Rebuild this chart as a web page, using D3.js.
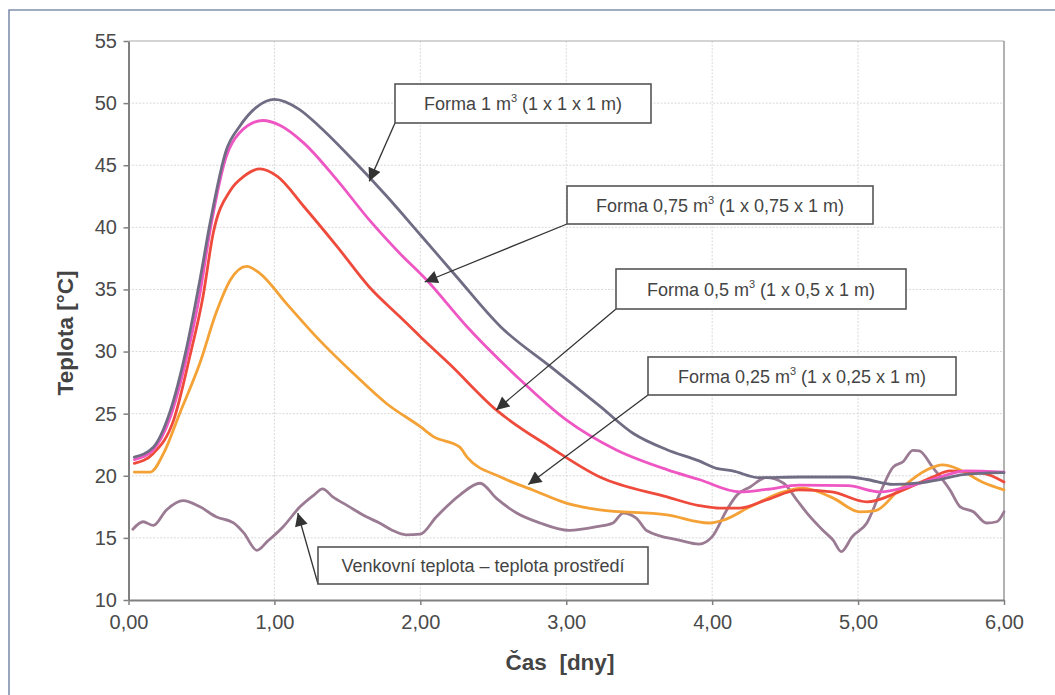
<!DOCTYPE html>
<html>
<head>
<meta charset="utf-8">
<script src="https://cdn.jsdelivr.net/npm/d3@7"></script>
<style>
	html, body {margin: 0; padding: 0; background: #fff;}
	svg {display: block; font-family: 'Liberation Sans', Arial, sans-serif;}
</style>
</head>
<body>
<svg id="chart" width="1055" height="695"></svg>
<script>
// [den, teplota]
const form_100 = [
	[0.04, 21.5], [0.17, 22.3], [0.28, 25.0], [0.40, 30.4], [0.49, 35.8], [0.56, 40.4], [0.67, 46.2],
	[0.76, 48.1], [0.88, 49.7], [1.00, 50.3], [1.17, 49.5], [1.31, 48.1], [1.54, 45.4], [1.77, 42.5],
	[2.00, 39.4], [2.25, 36.0], [2.55, 32.0], [2.89, 28.8], [3.23, 25.6], [3.46, 23.4], [3.69, 22.1],
	[3.91, 21.2], [4.03, 20.6], [4.14, 20.4], [4.32, 19.85], [4.60, 19.9], [4.94, 19.9], [5.06, 19.7],
	[5.24, 19.3], [5.40, 19.4], [5.56, 19.7], [5.72, 20.1], [6.00, 20.25]
];
const form_075 = [
	[0.04, 21.3], [0.17, 22.1], [0.28, 24.5], [0.40, 29.6], [0.49, 34.7], [0.56, 39.8], [0.67, 45.7],
	[0.76, 47.6], [0.92, 48.6], [1.04, 48.2], [1.20, 46.8], [1.43, 43.8], [1.65, 40.6], [1.86, 37.9],
	[2.04, 35.8], [2.32, 32.0], [2.66, 28.0], [3.00, 24.5], [3.34, 22.1], [3.69, 20.5], [3.91, 19.7],
	[4.19, 18.7], [4.37, 18.9], [4.60, 19.25], [4.93, 19.2], [5.15, 18.7], [5.38, 19.25], [5.56, 19.9],
	[5.74, 20.4], [6.00, 20.3]
];
const form_050 = [
	[0.04, 21.0], [0.17, 21.8], [0.31, 24.5], [0.42, 29.6], [0.51, 34.4], [0.58, 39.5], [0.70, 43.0],
	[0.79, 44.1], [0.90, 44.7], [1.02, 44.1], [1.20, 41.7], [1.43, 38.45], [1.65, 35.2], [1.86, 32.8],
	[2.00, 31.2], [2.20, 29.0], [2.52, 25.3], [2.89, 22.3], [3.23, 19.9], [3.69, 18.3], [3.91, 17.6],
	[4.05, 17.4], [4.19, 17.4], [4.37, 18.05], [4.60, 18.86], [4.82, 18.7], [5.06, 17.9], [5.28, 18.7],
	[5.51, 19.9], [5.63, 20.4], [5.86, 20.2], [6.00, 19.5]
];
const form_025 = [
	[0.04, 20.3], [0.15, 20.3], [0.24, 21.8], [0.35, 25.0], [0.49, 29.1], [0.60, 33.1], [0.70, 35.8],
	[0.81, 36.85], [0.90, 36.3], [1.08, 33.9], [1.31, 30.9], [1.54, 28.25], [1.77, 25.8], [2.00, 23.95],
	[2.09, 23.15], [2.27, 22.3], [2.32, 21.5], [2.55, 19.9], [2.77, 18.86], [3.00, 17.8], [3.23, 17.25],
	[3.69, 16.85], [3.98, 16.2], [4.07, 16.4], [4.26, 17.5], [4.49, 18.7], [4.62, 19.0], [4.83, 18.2],
	[5.01, 17.1], [5.12, 17.2], [5.28, 18.86], [5.47, 20.47], [5.58, 20.87], [5.70, 20.47], [5.85, 19.5],
	[6.00, 18.86]
];
const outdoor = [
	[0.03, 15.7], [0.10, 16.3], [0.17, 16.0], [0.26, 17.25], [0.375, 18.0], [0.49, 17.5], [0.60, 16.7],
	[0.72, 16.2], [0.79, 15.4], [0.88, 14.0], [0.95, 14.7], [1.06, 15.9], [1.175, 17.5], [1.27, 18.45],
	[1.33, 18.95], [1.40, 18.3], [1.50, 17.6], [1.63, 16.7], [1.72, 16.2], [1.81, 15.6], [1.90, 15.25],
	[2.00, 15.3], [2.11, 16.7], [2.27, 18.45], [2.41, 19.4], [2.52, 18.2], [2.66, 17.0], [2.82, 16.2],
	[3.02, 15.6], [3.21, 15.9], [3.32, 16.2], [3.39, 17.0], [3.48, 16.6], [3.55, 15.6], [3.78, 14.8],
	[3.91, 14.5], [4.00, 15.1], [4.10, 17.25], [4.17, 18.45], [4.26, 19.1], [4.37, 19.85], [4.49, 19.4],
	[4.58, 18.05], [4.65, 17.0], [4.76, 15.6], [4.83, 14.8], [4.885, 13.9], [4.96, 15.1], [5.06, 16.2],
	[5.15, 18.6], [5.24, 20.7], [5.31, 21.15], [5.375, 22.05], [5.42, 22.0], [5.51, 20.7], [5.63, 18.86],
	[5.70, 17.5], [5.79, 17.1], [5.88, 16.2], [5.95, 16.3], [6.00, 17.1]
];

const x_ticks = [0, 1, 2, 3, 4, 5, 6];
const y_ticks = [10, 15, 20, 25, 30, 35, 40, 45, 50, 55];

const series_names = ['outdoor', 'form_025', 'form_050', 'form_075', 'form_100'];
const series_data = [outdoor, form_025, form_050, form_075, form_100];
const series_colors = ['#9a7b93', '#f4a236', '#ee4b3c', '#ee57c3', '#706c84'];

// popisky: text, hrot šipky [den, teplota]
const label_texts = [
	['Forma 1 m', '3', ' (1 x 1 x 1 m)'],
	['Forma 0,75 m', '3', ' (1 x 0,75 x 1 m)'],
	['Forma 0,5 m', '3', ' (1 x 0,5 x 1 m)'],
	['Forma 0,25 m', '3', ' (1 x 0,25 x 1 m)'],
	['Venkovní teplota – teplota prostředí', '', '']
];
const label_tips = [[1.65, 43.7], [2.03, 35.6], [2.52, 25.3], [2.74, 19.3], [1.16, 17.0]];

// rozložení rámečků (px)
const label_boxes = [
	{x: 395, y: 84, w: 256, h: 39},
	{x: 567, y: 186, w: 306, h: 38},
	{x: 616, y: 269, w: 290, h: 40},
	{x: 648, y: 357, w: 308, h: 38},
	{x: 318, y: 547, w: 330, h: 37}
];

const MARGIN = {left: 128.5, top: 41, right: 1004, bottom: 600};

const svg = d3.select('#chart');

// vnější rám
svg.append('path')
	.attr('d', 'M9,695 L9,10 L1055,10')
	.attr('fill', 'none')
	.attr('stroke', '#7f90ad')
	.attr('stroke-width', 1.6);

const xScale = d3.scaleLinear().domain([0, 6]).range([MARGIN.left, MARGIN.right]);
const yScale = d3.scaleLinear().domain([10, 55]).range([MARGIN.bottom, MARGIN.top]);

const fmt = v => d3.format('.2f')(v).replace('.', ',');

// mřížka
svg.append('g')
	.selectAll('line')
	.data(y_ticks.slice(1, -1))
	.join('line')
	.attr('x1', MARGIN.left)
	.attr('x2', MARGIN.right)
	.attr('y1', d => yScale(d))
	.attr('y2', d => yScale(d))
	.attr('stroke', '#d9d9d9')
	.attr('stroke-dasharray', '2,1.5');

svg.append('g')
	.selectAll('line')
	.data(x_ticks.slice(1, -1))
	.join('line')
	.attr('x1', d => xScale(d))
	.attr('x2', d => xScale(d))
	.attr('y1', MARGIN.top)
	.attr('y2', MARGIN.bottom)
	.attr('stroke', '#d9d9d9')
	.attr('stroke-dasharray', '2,1.5');

// okraje plochy grafu
svg.append('line')
	.attr('x1', MARGIN.left).attr('x2', MARGIN.right)
	.attr('y1', MARGIN.top).attr('y2', MARGIN.top)
	.attr('stroke', '#aaa').attr('stroke-width', 1.2);
svg.append('line')
	.attr('x1', MARGIN.right).attr('x2', MARGIN.right)
	.attr('y1', MARGIN.top).attr('y2', MARGIN.bottom)
	.attr('stroke', '#999').attr('stroke-width', 1.5);

// osy
const xAxis = svg.append('g')
	.attr('transform', `translate(0,${MARGIN.bottom})`)
	.call(d3.axisBottom(xScale).tickValues(x_ticks).tickFormat(fmt).tickSizeInner(5).tickSizeOuter(0).tickPadding(10));

const yAxis = svg.append('g')
	.attr('transform', `translate(${MARGIN.left},0)`)
	.call(d3.axisLeft(yScale).tickValues(y_ticks).tickSizeInner(5).tickSizeOuter(0).tickPadding(6.5));

[xAxis, yAxis].forEach(axis => {
	axis.select('.domain').attr('stroke', '#808080').attr('stroke-width', 2);
	axis.selectAll('.tick line').attr('stroke', '#808080').attr('stroke-width', 1.5);
	axis.selectAll('.tick text')
		.attr('fill', '#4a4a4a')
		.style('font-size', '20px')
		.style('font-family', "'Liberation Sans', Arial, sans-serif");
});

// názvy os
svg.append('text')
	.attr('transform', 'translate(73,333) rotate(-90)')
	.attr('text-anchor', 'middle')
	.attr('fill', '#444')
	.style('font-size', '22.5px')
	.style('font-weight', 'bold')
	.text('Teplota [°C]');

svg.append('text')
	.attr('x', 560)
	.attr('y', 670)
	.attr('text-anchor', 'middle')
	.attr('fill', '#444')
	.style('font-size', '22.5px')
	.style('font-weight', 'bold')
	.style('white-space', 'pre')
	.attr('xml:space', 'preserve')
	.text('Čas  [dny]');

// křivky
const lineGenerator = d3.line()
	.x(d => xScale(d[0]))
	.y(d => yScale(d[1]))
	.curve(d3.curveMonotoneX);

svg.append('g')
	.selectAll('path')
	.data(series_data)
	.join('path')
	.attr('class', (d, i) => series_names[i])
	.attr('d', lineGenerator)
	.attr('fill', 'none')
	.attr('stroke', (d, i) => series_colors[i])
	.attr('stroke-width', 2.8)
	.attr('stroke-linejoin', 'round')
	.attr('stroke-linecap', 'round');

// šipky
svg.append('defs')
	.append('marker')
	.attr('id', 'arrow')
	.attr('viewBox', '0 0 10 10')
	.attr('refX', 10)
	.attr('refY', 5)
	.attr('markerUnits', 'userSpaceOnUse')
	.attr('markerWidth', 17)
	.attr('markerHeight', 13)
	.attr('orient', 'auto')
	.append('path')
	.attr('d', 'M0,0 L10,5 L0,10 Z')
	.attr('fill', '#333');

const labels = svg.append('g');

label_boxes.forEach((box, i) => {
	const tip = label_tips[i];

	labels.append('line')
		.attr('x1', box.x)
		.attr('y1', box.y + box.h)
		.attr('x2', xScale(tip[0]))
		.attr('y2', yScale(tip[1]))
		.attr('stroke', '#333')
		.attr('stroke-width', 1.3)
		.attr('marker-end', 'url(#arrow)');

	labels.append('rect')
		.attr('x', box.x)
		.attr('y', box.y)
		.attr('width', box.w)
		.attr('height', box.h)
		.attr('fill', '#fff')
		.attr('stroke', '#555')
		.attr('stroke-width', 1.6);

	const text = labels.append('text')
		.attr('x', box.x + box.w / 2)
		.attr('y', box.y + box.h / 2 + 6.5)
		.attr('text-anchor', 'middle')
		.attr('fill', '#444')
		.style('font-size', '18px');

	const parts = label_texts[i];
	text.append('tspan').text(parts[0]);

	if (parts[1] !== '') {
		text.append('tspan')
			.attr('dy', -8)
			.style('font-size', '11px')
			.text(parts[1]);
		text.append('tspan')
			.attr('dy', 8)
			.text(parts[2]);
	}
});
</script>
</body>
</html>
